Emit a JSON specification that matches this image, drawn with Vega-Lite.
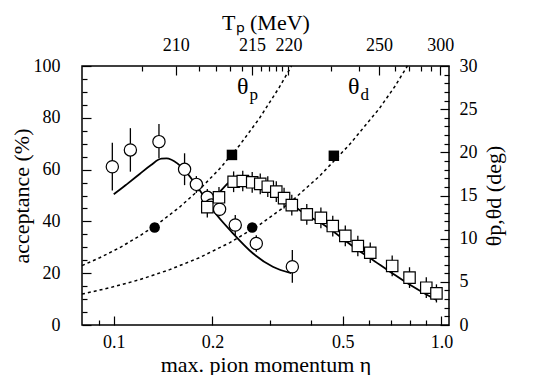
{
  "$schema": "https://vega.github.io/schema/vega-lite/v6.json",
  "width": 367,
  "height": 259,
  "autosize": {"type": "none"},
  "padding": {"left": 82, "top": 66, "right": 93, "bottom": 50},
  "background": "white",
  "config": {
    "view": {"stroke": "black", "strokeWidth": 1.5},
    "font": "Liberation Serif",
    "axis": {
      "labelFont": "Liberation Serif", "titleFont": "Liberation Serif",
      "labelFontSize": 18, "titleFontSize": 22, "titleFontWeight": "normal",
      "labelColor": "black", "titleColor": "black", "tickColor": "black",
      "grid": false, "domain": false, "tickWidth": 1.2,
      "labelFlush": false, "labelOverlap": false
    }
  },
  "datasets": {
    "circles": [
      {"eta": 0.099, "acc": 61.1, "lo": 51.9, "hi": 70.4},
      {"eta": 0.1124, "acc": 67.6, "lo": 59.2, "hi": 76},
      {"eta": 0.1374, "acc": 70.8, "lo": 64.4, "hi": 77.6},
      {"eta": 0.1645, "acc": 60.1, "lo": 54, "hi": 66.3},
      {"eta": 0.1787, "acc": 54.3, "lo": 51, "hi": 57.5},
      {"eta": 0.193, "acc": 49.3, "lo": 45.5, "hi": 52.5},
      {"eta": 0.1986, "acc": 46.3, "lo": 43.5, "hi": 49},
      {"eta": 0.2104, "acc": 44.7, "lo": 42, "hi": 47.4},
      {"eta": 0.2349, "acc": 38.6, "lo": 34.7, "hi": 42.5},
      {"eta": 0.2723, "acc": 31.5, "lo": 28.3, "hi": 34.7},
      {"eta": 0.3508, "acc": 22.5, "lo": 16.3, "hi": 29}
    ],
    "squares": [
      {"eta": 0.193, "acc": 45.5, "lo": 41.5, "hi": 49.5},
      {"eta": 0.2095, "acc": 49.3, "lo": 45.3, "hi": 53.3},
      {"eta": 0.2322, "acc": 55.3, "lo": 51.3, "hi": 59.3},
      {"eta": 0.2476, "acc": 55.6, "lo": 51.6, "hi": 59.6},
      {"eta": 0.2646, "acc": 55.1, "lo": 51.1, "hi": 59.1},
      {"eta": 0.28, "acc": 54.5, "lo": 50.5, "hi": 58.5},
      {"eta": 0.2952, "acc": 53.4, "lo": 49.4, "hi": 57.4},
      {"eta": 0.3134, "acc": 51.5, "lo": 47.5, "hi": 55.5},
      {"eta": 0.331, "acc": 49, "lo": 45, "hi": 53},
      {"eta": 0.3495, "acc": 46.3, "lo": 42.3, "hi": 50.3},
      {"eta": 0.3883, "acc": 42.7, "lo": 38.7, "hi": 46.7},
      {"eta": 0.4288, "acc": 41.4, "lo": 37.4, "hi": 45.4},
      {"eta": 0.4661, "acc": 38.2, "lo": 34.2, "hi": 42.2},
      {"eta": 0.509, "acc": 34.4, "lo": 30.4, "hi": 38.4},
      {"eta": 0.5559, "acc": 30.5, "lo": 26.5, "hi": 34.5},
      {"eta": 0.6066, "acc": 27.9, "lo": 23.9, "hi": 31.9},
      {"eta": 0.7077, "acc": 22.8, "lo": 18.8, "hi": 26.8},
      {"eta": 0.7994, "acc": 18.3, "lo": 14.3, "hi": 22.3},
      {"eta": 0.8994, "acc": 14.4, "lo": 10.4, "hi": 18.4},
      {"eta": 0.9659, "acc": 12.2, "lo": 8.7, "hi": 15.7}
    ],
    "curves": [
      {"curve": "a", "eta": 0.1, "acc": 50.5},
      {"curve": "a", "eta": 0.105, "acc": 52.5},
      {"curve": "a", "eta": 0.11, "acc": 54.5},
      {"curve": "a", "eta": 0.12, "acc": 58.3},
      {"curve": "a", "eta": 0.13, "acc": 61.8},
      {"curve": "a", "eta": 0.1398, "acc": 64.2},
      {"curve": "a", "eta": 0.145, "acc": 64.3},
      {"curve": "a", "eta": 0.15, "acc": 63.8},
      {"curve": "a", "eta": 0.1645, "acc": 59.8},
      {"curve": "a", "eta": 0.1829, "acc": 52},
      {"curve": "a", "eta": 0.2007, "acc": 44.4},
      {"curve": "a", "eta": 0.2311, "acc": 35.4},
      {"curve": "a", "eta": 0.2657, "acc": 27.7},
      {"curve": "a", "eta": 0.3059, "acc": 22.5},
      {"curve": "a", "eta": 0.3479, "acc": 20},
      {"curve": "b", "eta": 0.1935, "acc": 45},
      {"curve": "b", "eta": 0.203, "acc": 48.8},
      {"curve": "b", "eta": 0.2134, "acc": 52.2},
      {"curve": "b", "eta": 0.2255, "acc": 55.2},
      {"curve": "b", "eta": 0.2421, "acc": 57.3},
      {"curve": "b", "eta": 0.2596, "acc": 57.3},
      {"curve": "b", "eta": 0.2787, "acc": 56},
      {"curve": "b", "eta": 0.2991, "acc": 53.6},
      {"curve": "b", "eta": 0.3209, "acc": 50.6},
      {"curve": "b", "eta": 0.3444, "acc": 47.4},
      {"curve": "b", "eta": 0.3696, "acc": 44.3},
      {"curve": "b", "eta": 0.4, "acc": 41.5},
      {"curve": "b", "eta": 0.4338, "acc": 39},
      {"curve": "b", "eta": 0.4661, "acc": 36.3},
      {"curve": "b", "eta": 0.509, "acc": 32.5},
      {"curve": "b", "eta": 0.5559, "acc": 29},
      {"curve": "b", "eta": 0.6066, "acc": 25.8},
      {"curve": "b", "eta": 0.7077, "acc": 20},
      {"curve": "b", "eta": 0.7994, "acc": 15.6},
      {"curve": "b", "eta": 0.8994, "acc": 11.8},
      {"curve": "b", "eta": 0.9659, "acc": 9.7}
    ],
    "angles": [
      {"curve": "p", "eta": 0.08, "theta": 6.88},
      {"curve": "p", "eta": 0.0906, "theta": 7.79},
      {"curve": "p", "eta": 0.1043, "theta": 8.96},
      {"curve": "p", "eta": 0.12, "theta": 10.32},
      {"curve": "p", "eta": 0.1381, "theta": 11.87},
      {"curve": "p", "eta": 0.1589, "theta": 13.66},
      {"curve": "p", "eta": 0.1829, "theta": 15.72},
      {"curve": "p", "eta": 0.2104, "theta": 18.09},
      {"curve": "p", "eta": 0.2421, "theta": 20.82},
      {"curve": "p", "eta": 0.2786, "theta": 23.96},
      {"curve": "p", "eta": 0.3206, "theta": 27.57},
      {"curve": "p", "eta": 0.3488, "theta": 30},
      {"curve": "d", "eta": 0.08, "theta": 3.58},
      {"curve": "d", "eta": 0.0972, "theta": 4.31},
      {"curve": "d", "eta": 0.12, "theta": 5.25},
      {"curve": "d", "eta": 0.1481, "theta": 6.41},
      {"curve": "d", "eta": 0.1829, "theta": 7.81},
      {"curve": "d", "eta": 0.2256, "theta": 9.52},
      {"curve": "d", "eta": 0.2786, "theta": 11.6},
      {"curve": "d", "eta": 0.3443, "theta": 14.14},
      {"curve": "d", "eta": 0.4247, "theta": 17.24},
      {"curve": "d", "eta": 0.5244, "theta": 20.9},
      {"curve": "d", "eta": 0.6474, "theta": 25.1},
      {"curve": "d", "eta": 0.72, "theta": 27.6},
      {"curve": "d", "eta": 0.7876, "theta": 30}
    ],
    "filled": [
      {"shape": "circle", "eta": 0.1333, "theta": 11.3},
      {"shape": "circle", "eta": 0.2646, "theta": 11.3},
      {"shape": "square", "eta": 0.2295, "theta": 19.7},
      {"shape": "square", "eta": 0.4697, "theta": 19.6}
    ],
    "labels": [
      {"eta": 0.2576, "theta": 27.6, "main": "θ", "sub": "p"},
      {"eta": 0.5623, "theta": 27.6, "main": "θ", "sub": "d"}
    ]
  },
  "resolve": {"scale": {"x": "independent", "y": "independent"}},
  "layer": [
    {
      "data": {"name": "curves"},
      "mark": {"type": "line", "color": "black", "strokeWidth": 1.8, "interpolate": "monotone"},
      "encoding": {
        "x": {
          "field": "eta", "type": "quantitative",
          "scale": {"type": "log", "domain": [0.08, 1.055], "nice": false},
          "axis": {
            "orient": "bottom", "labels": false, "title": null,
            "values": [0.09, 0.1, 0.2, 0.3, 0.4, 0.5, 0.6, 0.7, 0.8, 0.9, 1],
            "tickSize": {"condition": {"test": "indexof([0.1, 0.2, 0.5, 1], datum.value) >= 0", "value": -9}, "value": -5}
          }
        },
        "y": {
          "field": "acc", "type": "quantitative",
          "scale": {"domain": [0, 100], "nice": false, "zero": false},
          "axis": {
            "orient": "left", "labels": false, "title": null,
            "values": [0, 5, 10, 15, 20, 25, 30, 35, 40, 45, 50, 55, 60, 65, 70, 75, 80, 85, 90, 95, 100],
            "tickSize": {"condition": {"test": "datum.value % 20 === 0", "value": -9}, "value": -5}
          }
        },
        "detail": {"field": "curve"}
      }
    },
    {
      "layer": [
        {
          "data": {"name": "angles"},
          "mark": {"type": "line", "color": "black", "strokeWidth": 1.5, "strokeDash": [3, 3]},
          "encoding": {
            "x": {
              "field": "eta", "type": "quantitative",
              "scale": {"type": "log", "domain": [0.08, 1.055], "nice": false},
              "axis": {
                "orient": "top", "ticks": false, "title": "Tₚ (MeV)",
                "values": [0.1545, 0.2642, 0.3414, 0.6451, 0.9921],
                "labelExpr": "datum.value < 0.2 ? '210' : datum.value < 0.3 ? '215' : datum.value < 0.5 ? '220' : datum.value < 0.8 ? '250' : '300'",
                "labelPadding": 12, "titlePadding": 2
              }
            },
            "y": {
              "field": "theta", "type": "quantitative",
              "scale": {"domain": [0, 30], "nice": false, "zero": false},
              "axis": {
                "orient": "right", "ticks": false, "title": "θp,θd (deg)",
                "values": [0, 5, 10, 15, 20, 25, 30],
                "labelPadding": 10, "titlePadding": 28, "titleAngle": 270
              }
            },
            "detail": {"field": "curve"}
          }
        },
        {
          "data": {"name": "labels"},
          "mark": {"type": "text", "font": "Liberation Serif", "fontSize": 24, "align": "right", "baseline": "middle", "color": "black"},
          "encoding": {
            "x": {"field": "eta", "type": "quantitative"},
            "y": {"field": "theta", "type": "quantitative"},
            "text": {"field": "main"}
          }
        },
        {
          "data": {"name": "labels"},
          "mark": {"type": "text", "font": "Liberation Serif", "fontSize": 17, "align": "left", "baseline": "middle", "dx": 1, "dy": 8, "color": "black"},
          "encoding": {
            "x": {"field": "eta", "type": "quantitative"},
            "y": {"field": "theta", "type": "quantitative"},
            "text": {"field": "sub"}
          }
        }
      ]
    },
    {
      "data": {"name": "filled"},
      "mark": {"type": "point", "filled": true, "color": "black", "size": 110, "opacity": 1},
      "encoding": {
        "x": {
          "field": "eta", "type": "quantitative",
          "scale": {"type": "log", "domain": [0.08, 1.055], "nice": false},
          "axis": {
            "orient": "top", "labels": false, "title": null,
            "values": [0.1216, 0.1545, 0.1816, 0.2052, 0.2265, 0.246, 0.2642, 0.2812, 0.2973, 0.3127, 0.3273, 0.3414, 0.4614, 0.5593, 0.6451, 0.7232, 0.7958, 0.8643, 0.9295, 0.9921],
            "tickSize": {"condition": {"test": "indexof([0.1545, 0.2642, 0.3414, 0.6451, 0.9921], datum.value) >= 0", "value": -9}, "value": -5}
          }
        },
        "y": {
          "field": "theta", "type": "quantitative",
          "scale": {"domain": [0, 30], "nice": false, "zero": false},
          "axis": {
            "orient": "right", "labels": false, "title": null,
            "values": [0, 1, 2, 3, 4, 5, 6, 7, 8, 9, 10, 11, 12, 13, 14, 15, 16, 17, 18, 19, 20, 21, 22, 23, 24, 25, 26, 27, 28, 29, 30],
            "tickSize": {"condition": {"test": "datum.value % 5 === 0", "value": -9}, "value": -5}
          }
        },
        "shape": {"field": "shape", "type": "nominal", "scale": {"domain": ["circle", "square"], "range": ["circle", "square"]}, "legend": null}
      }
    },
    {
      "layer": [
        {
          "data": {"name": "circles"},
          "mark": {"type": "rule", "color": "black", "strokeWidth": 1.3},
          "encoding": {
            "x": {
              "field": "eta", "type": "quantitative",
              "scale": {"type": "log", "domain": [0.08, 1.055], "nice": false},
              "axis": {
                "orient": "bottom", "ticks": false, "title": "max. pion momentum  η",
                "values": [0.1, 0.2, 0.5, 1],
                "labelExpr": "datum.value == 1 ? '1.0' : format(datum.value, '.1f')",
                "labelPadding": 8, "titlePadding": 3
              }
            },
            "y": {
              "field": "lo", "type": "quantitative",
              "scale": {"domain": [0, 100], "nice": false, "zero": false},
              "axis": {
                "orient": "left", "ticks": false, "title": "acceptance (%)",
                "values": [0, 20, 40, 60, 80, 100],
                "labelPadding": 22, "titlePadding": 0
              }
            },
            "y2": {"field": "hi"}
          }
        },
        {
          "data": {"name": "squares"},
          "mark": {"type": "rule", "color": "black", "strokeWidth": 1.3},
          "encoding": {
            "x": {"field": "eta", "type": "quantitative"},
            "y": {"field": "lo", "type": "quantitative"},
            "y2": {"field": "hi"}
          }
        },
        {
          "data": {"name": "circles"},
          "mark": {"type": "point", "shape": "circle", "filled": true, "fill": "white", "stroke": "black", "strokeWidth": 1.2, "size": 150, "opacity": 1},
          "encoding": {
            "x": {"field": "eta", "type": "quantitative"},
            "y": {"field": "acc", "type": "quantitative"}
          }
        },
        {
          "data": {"name": "squares"},
          "mark": {"type": "point", "shape": "square", "filled": true, "fill": "white", "stroke": "black", "strokeWidth": 1.2, "size": 130, "opacity": 1},
          "encoding": {
            "x": {"field": "eta", "type": "quantitative"},
            "y": {"field": "acc", "type": "quantitative"}
          }
        }
      ]
    }
  ]
}
